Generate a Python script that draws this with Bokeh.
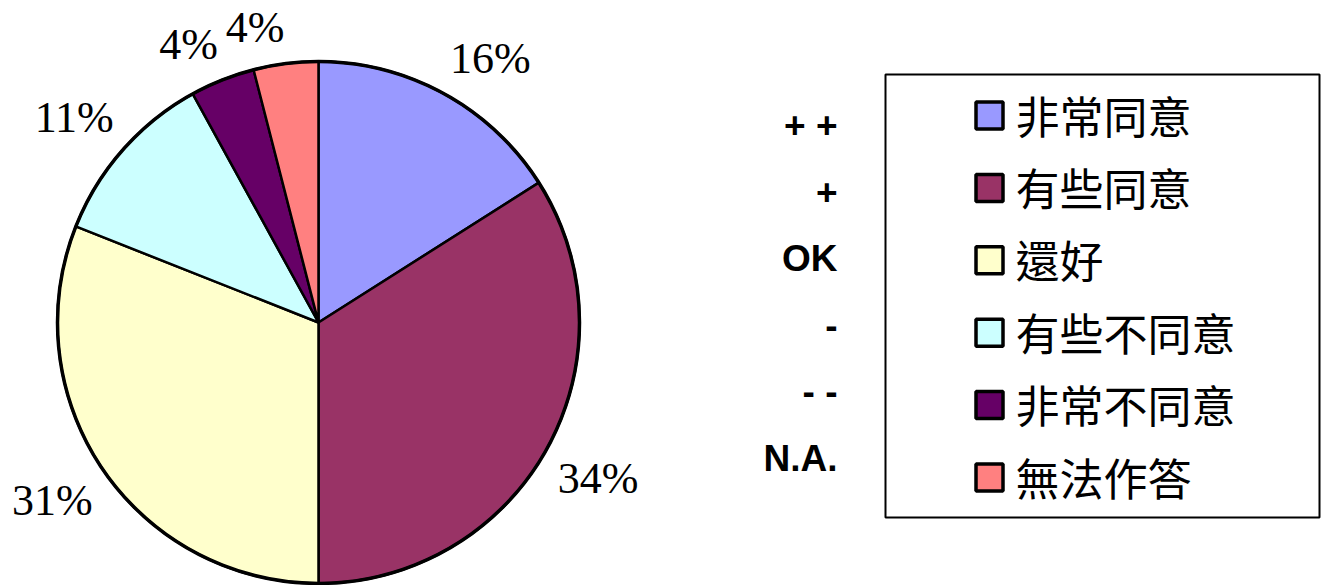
import numpy as np
from bokeh.plotting import figure
from bokeh.models import Range1d
from bokeh.core.properties import value
from bokeh.embed import file_html
from bokeh.resources import INLINE

# ---- data ----
categories = ["非常同意", "有些同意", "還好", "有些不同意", "非常不同意", "無法作答"]
short_labels = ["+ +", "+", "OK", "-", "- -", "N.A."]
percent = [16, 34, 31, 11, 4, 4]
colors = ["#9999FF", "#993366", "#FFFFCC", "#CCFFFF", "#660066", "#FF8080"]

W, H = 1321, 585
p = figure(width=W, height=H, x_range=Range1d(0, W), y_range=Range1d(0, H),
           output_backend="svg", toolbar_location=None, min_border=0,
           x_axis_location=None, y_axis_location=None)
p.grid.visible = False
p.outline_line_color = None
p.background_fill_color = "white"
p.border_fill_color = "white"

# ---- pie ----
cx, cy, r = 318, H - 322, 261
vals = np.array(percent, dtype=float)
cum = np.concatenate([[0], np.cumsum(vals)]) / vals.sum()
start = np.pi / 2 - 2 * np.pi * cum[:-1]
end = np.pi / 2 - 2 * np.pi * cum[1:]
p.wedge(x=cx, y=cy, radius=r, start_angle=start, end_angle=end, direction="clock",
        fill_color=colors, line_color="black", line_width=2.5)
p.circle(x=cx, y=cy, radius=r, fill_color=None, line_color="black", line_width=3.5)

# ---- percent labels ----
mid = np.pi * (cum[:-1] + cum[1:])
gap = 12
for v, m in zip(percent, mid):
    ux, uy = np.sin(m), np.cos(m)
    ax = cx + (r + gap) * ux
    ay = cy + (r + gap) * uy
    p.text(x=[ax], y=[ay], text=[f"{v}%"],
           text_align="left" if ux >= 0 else "right",
           text_baseline="bottom" if uy > 0 else "top",
           text_font=value("Liberation Serif"), text_font_size="44px",
           text_color="black")

# ---- legend box ----
p.quad(left=[885], right=[1319], top=[H - 74], bottom=[H - 517],
       fill_color="white", line_color="black", line_width=2, level="underlay")

n = len(categories)
row_y = H - (115 + 72.4 * np.arange(n))
p.rect(x=[989] * n, y=row_y, width=27, height=27, fill_color=colors,
       line_color="black", line_width=3.5)
p.text(x=[1015] * n, y=row_y + 1, text=categories, text_align="left",
       text_baseline="middle", text_font=value("Noto Sans CJK TC"),
       text_font_size="44px", text_color="black")

# ---- left short labels ----
side_y = H - (125 + 66.6 * np.arange(n))
p.text(x=[837] * n, y=side_y, text=short_labels, text_align="right",
       text_baseline="middle", text_font=value("Liberation Sans"),
       text_font_style="bold", text_font_size="37px", text_color="black")

open("out.html", "w").write(file_html(p, INLINE))
